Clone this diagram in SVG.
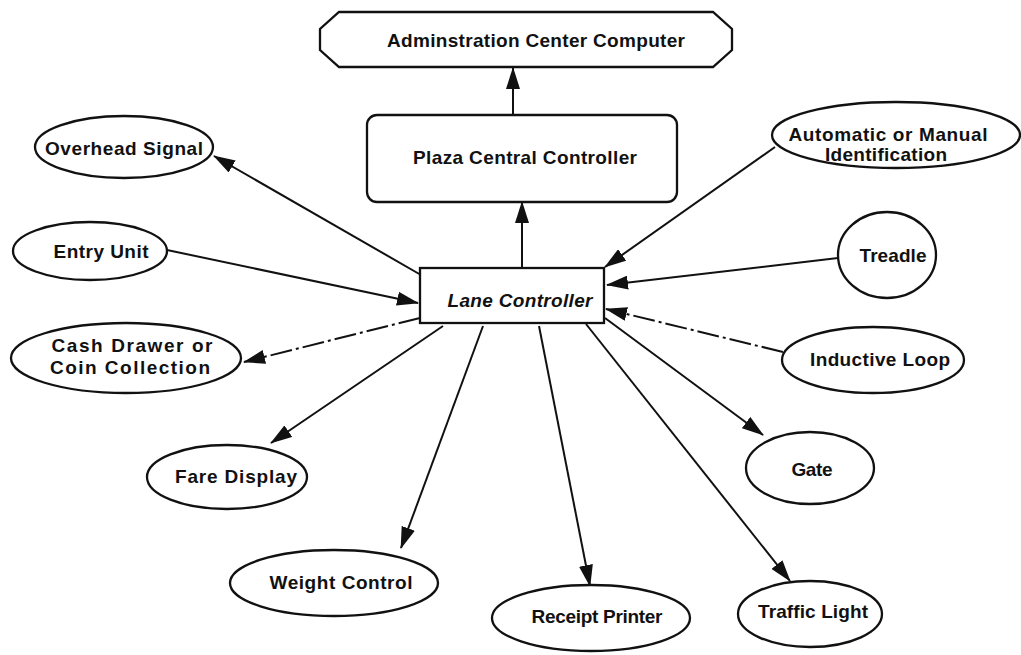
<svg xmlns="http://www.w3.org/2000/svg" width="1021" height="655" viewBox="0 0 1021 655">
<style>
.bg{fill:#ffffff}
.shape{fill:#ffffff;stroke:#111;stroke-width:2.3}
.lbl{font-family:"Liberation Sans",Arial,sans-serif;font-weight:bold;font-size:19px;fill:#111;text-anchor:middle}
.it{font-style:italic}
.con{stroke:#111;stroke-width:2;fill:none;marker-end:url(#ah)}
.dash{stroke-dasharray:22 4 3 4}
</style>
<defs>
<marker id="ah" markerUnits="userSpaceOnUse" markerWidth="22" markerHeight="14" refX="21" refY="7" orient="auto">
<path d="M0,0 L22,7 L0,14 Z" fill="#111"/>
</marker>
</defs>
<rect class="bg" x="0" y="0" width="1021" height="655"/>
<g id="connectors">
<line class="con" x1="513" y1="115" x2="513" y2="68"/>
<line class="con" x1="522" y1="268" x2="522" y2="202"/>
<line class="con" x1="421" y1="275" x2="214" y2="156"/>
<line class="con" x1="167" y1="250" x2="418" y2="303"/>
<line class="con dash" x1="420" y1="318" x2="244" y2="362"/>
<line class="con" x1="443" y1="326" x2="271" y2="443"/>
<line class="con" x1="483" y1="326" x2="401" y2="548"/>
<line class="con" x1="539" y1="326" x2="590" y2="586"/>
<line class="con" x1="586" y1="324" x2="790" y2="581"/>
<line class="con" x1="605" y1="318" x2="763" y2="435"/>
<line class="con dash" x1="783" y1="352" x2="606" y2="309"/>
<line class="con" x1="838" y1="258" x2="607" y2="285"/>
<line class="con" x1="775" y1="147" x2="605" y2="267"/>
</g>
<g id="admin">
<path class="shape" d="M339,12 L713,12 L732,29 L732,50 L713,67 L339,67 L320,50 L320,29 Z"/>
<text class="lbl" x="536" y="47" textLength="298" lengthAdjust="spacing">Adminstration Center Computer</text>
</g>
<g id="plaza">
<rect class="shape" x="367" y="115" width="310" height="87" rx="10"/>
<text class="lbl" x="525" y="164" textLength="224" lengthAdjust="spacing">Plaza Central Controller</text>
</g>
<g id="lane">
<rect class="shape" x="420" y="268" width="184" height="55"/>
<text class="lbl it" x="520" y="307" textLength="145" lengthAdjust="spacing">Lane Controller</text>
</g>
<g id="overhead">
<ellipse class="shape" cx="124" cy="147" rx="89" ry="31"/>
<text class="lbl" x="124" y="155" textLength="158" lengthAdjust="spacing">Overhead Signal</text>
</g>
<g id="entry">
<ellipse class="shape" cx="90" cy="251" rx="77" ry="29"/>
<text class="lbl" x="101" y="258" textLength="95" lengthAdjust="spacing">Entry Unit</text>
</g>
<g id="cash">
<ellipse class="shape" cx="126" cy="358" rx="115" ry="35"/>
<text class="lbl" x="132" y="352" textLength="161" lengthAdjust="spacing">Cash Drawer or</text>
<text class="lbl" x="130" y="374" textLength="160" lengthAdjust="spacing">Coin Collection</text>
</g>
<g id="fare">
<ellipse class="shape" cx="227" cy="477" rx="80" ry="32"/>
<text class="lbl" x="236" y="483" textLength="122" lengthAdjust="spacing">Fare Display</text>
</g>
<g id="weight">
<ellipse class="shape" cx="334" cy="583" rx="104" ry="33"/>
<text class="lbl" x="341" y="589" textLength="143" lengthAdjust="spacing">Weight Control</text>
</g>
<g id="receipt">
<ellipse class="shape" cx="591" cy="618" rx="99" ry="33"/>
<text class="lbl" x="597" y="623" textLength="131" lengthAdjust="spacing">Receipt Printer</text>
</g>
<g id="traffic">
<ellipse class="shape" cx="810" cy="614" rx="72" ry="33"/>
<text class="lbl" x="813" y="618" textLength="110" lengthAdjust="spacing">Traffic Light</text>
</g>
<g id="gate">
<ellipse class="shape" cx="810" cy="468" rx="64" ry="36"/>
<text class="lbl" x="812" y="476" textLength="41" lengthAdjust="spacing">Gate</text>
</g>
<g id="inductive">
<ellipse class="shape" cx="873" cy="360" rx="91" ry="33"/>
<text class="lbl" x="880" y="366" textLength="140" lengthAdjust="spacing">Inductive Loop</text>
</g>
<g id="treadle">
<ellipse class="shape" cx="887" cy="255" rx="49" ry="43"/>
<text class="lbl" x="893" y="262" textLength="67" lengthAdjust="spacing">Treadle</text>
</g>
<g id="automatic">
<ellipse class="shape" cx="896" cy="135" rx="124" ry="33"/>
<text class="lbl" x="888" y="141" textLength="199" lengthAdjust="spacing">Automatic or Manual</text>
<text class="lbl" x="886" y="161" textLength="122" lengthAdjust="spacing">Identification</text>
</g>
</svg>
